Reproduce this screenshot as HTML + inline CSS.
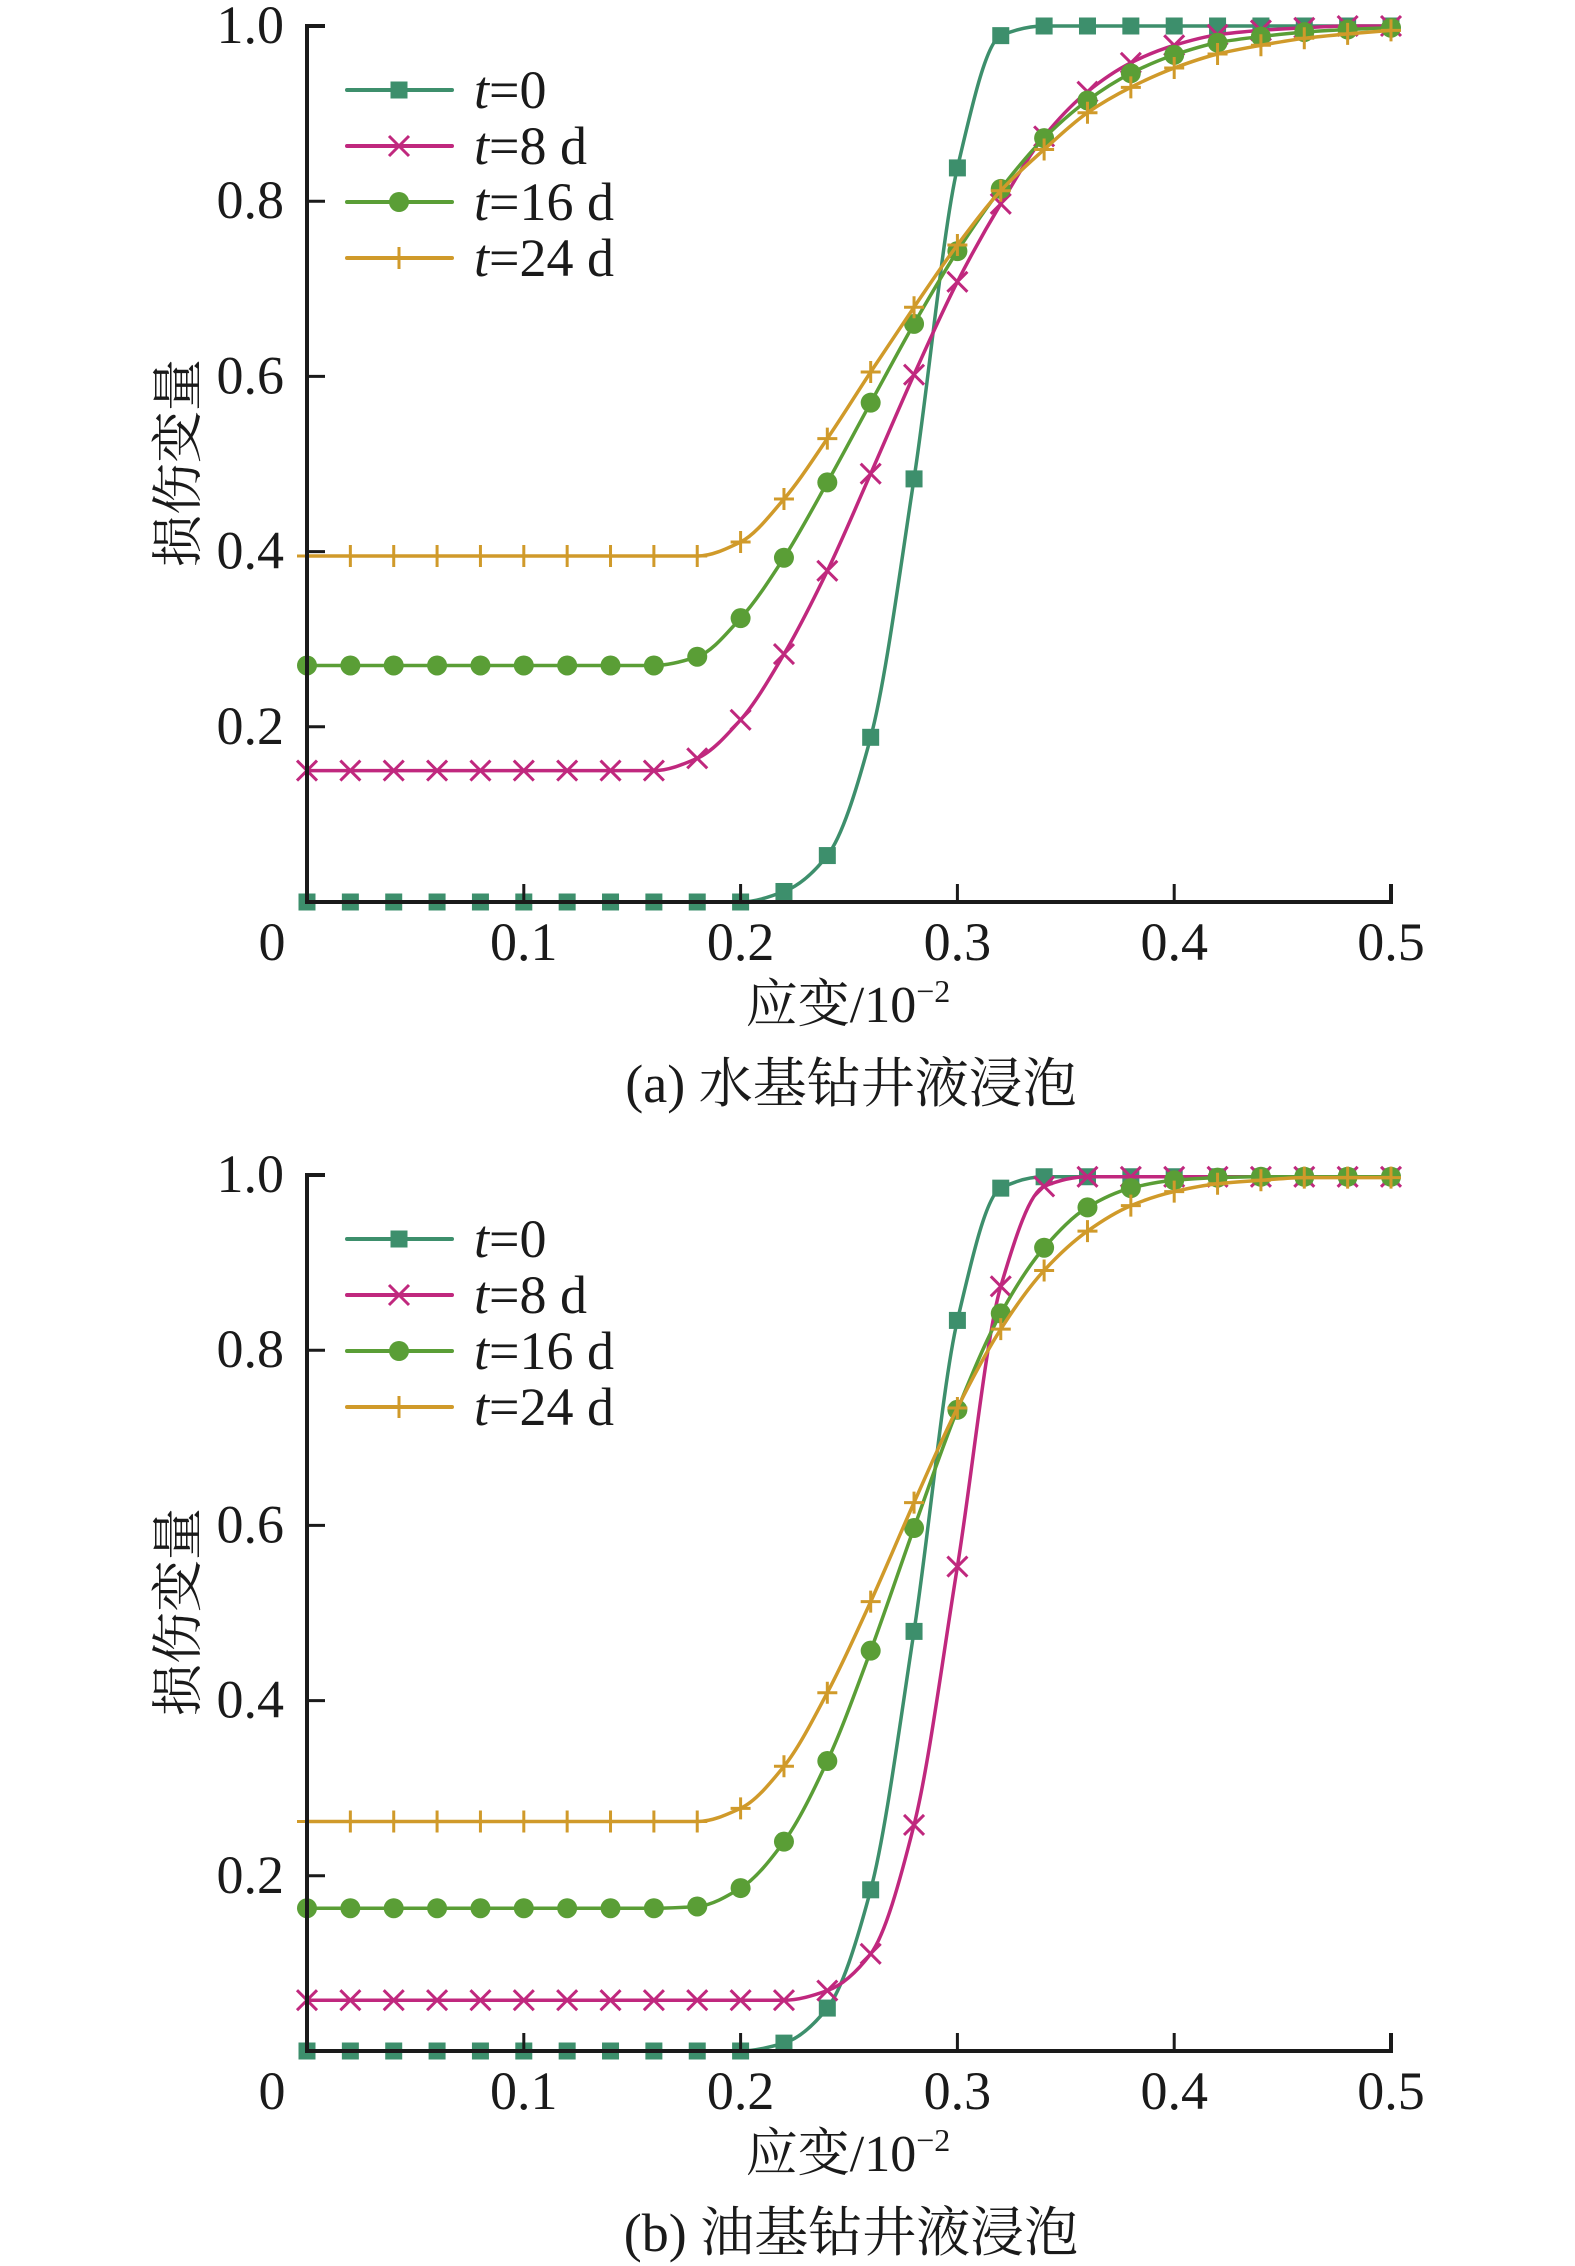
<!DOCTYPE html>
<html><head><meta charset="utf-8">
<style>
html,body{margin:0;padding:0;background:#fff;}
svg{display:block;}
text{font-family:"Liberation Serif","Noto Serif CJK SC","Noto Sans CJK SC",serif;fill:#1a1a1a;}
</style></head>
<body>
<svg id="fig" width="1575" height="2266" viewBox="0 0 1575 2266" xmlns="http://www.w3.org/2000/svg"></svg>
<script>
const strainValues = [0,0.02,0.04,0.06,0.08,0.10,0.12,0.14,0.16,0.18,0.20,0.22,0.24,0.26,0.28,0.30,0.32,0.34,0.36,0.38,0.40,0.42,0.44,0.46,0.48,0.50];
const xTickLabels = ["0","0.1","0.2","0.3","0.4","0.5"];
const xTickValues = [0,0.1,0.2,0.3,0.4,0.5];
const yTickLabels = ["0.2","0.4","0.6","0.8","1.0"];
const yTickValues = [0.2,0.4,0.6,0.8,1.0];
const seriesNames = ["t=0","t=8 d","t=16 d","t=24 d"];
// panel (a) water-based
const a_t0  = [0,0,0,0,0,0,0,0,0,0,0,0.012,0.053,0.188,0.483,0.838,0.989,1,1,1,1,1,1,1,1,1];
const a_t8  = [0.15,0.15,0.15,0.15,0.15,0.15,0.15,0.15,0.15,0.164,0.208,0.283,0.378,0.489,0.602,0.708,0.797,0.874,0.925,0.958,0.978,0.99,0.995,0.998,1,1];
const a_t16 = [0.27,0.27,0.27,0.27,0.27,0.27,0.27,0.27,0.27,0.28,0.324,0.393,0.479,0.57,0.66,0.743,0.814,0.872,0.915,0.946,0.967,0.981,0.988,0.993,0.996,0.998];
const a_t24 = [0.395,0.395,0.395,0.395,0.395,0.395,0.395,0.395,0.395,0.395,0.411,0.46,0.529,0.605,0.679,0.75,0.812,0.859,0.901,0.93,0.952,0.968,0.978,0.986,0.991,0.995];
// panel (b) oil-based
const b_t0  = [0,0,0,0,0,0,0,0,0,0,0,0.009,0.049,0.184,0.479,0.834,0.985,0.998,0.998,0.998,0.998,0.998,0.998,0.998,0.998,0.998];
const b_t8  = [0.058,0.058,0.058,0.058,0.058,0.058,0.058,0.058,0.058,0.058,0.058,0.058,0.069,0.111,0.258,0.553,0.873,0.987,0.998,0.998,0.998,0.998,0.998,0.998,0.998,0.998];
const b_t16 = [0.163,0.163,0.163,0.163,0.163,0.163,0.163,0.163,0.163,0.165,0.186,0.239,0.331,0.457,0.597,0.732,0.842,0.917,0.963,0.985,0.994,0.997,0.998,0.998,0.998,0.998];
const b_t24 = [0.262,0.262,0.262,0.262,0.262,0.262,0.262,0.262,0.262,0.262,0.277,0.325,0.409,0.513,0.626,0.734,0.824,0.891,0.936,0.965,0.981,0.99,0.994,0.997,0.997,0.997];

const NS="http://www.w3.org/2000/svg";
const svg=document.getElementById('fig');
const colors=["#3d8f6c","#c0287e","#5a9e36","#d09a2a"];
const markers=["square","cross","circle","plus"];
function el(tag,attrs,parent){const e=document.createElementNS(NS,tag);for(const k in attrs)e.setAttribute(k,attrs[k]);(parent||svg).appendChild(e);return e;}

function monoPath(pts){
  const n=pts.length;const dx=[],m=[],t=[];
  for(let i=0;i<n-1;i++){dx.push(pts[i+1][0]-pts[i][0]);m.push((pts[i+1][1]-pts[i][1])/dx[i]);}
  t[0]=m[0];t[n-1]=m[n-2];
  for(let i=1;i<n-1;i++){ if(m[i-1]*m[i]<=0)t[i]=0; else t[i]=2/(1/m[i-1]+1/m[i]); }
  let d="M"+pts[0][0].toFixed(1)+","+pts[0][1].toFixed(1);
  for(let i=0;i<n-1;i++){const h=dx[i]/3;
    d+=" C"+(pts[i][0]+h).toFixed(1)+","+(pts[i][1]+t[i]*h).toFixed(1)+" "+(pts[i+1][0]-h).toFixed(1)+","+(pts[i+1][1]-t[i+1]*h).toFixed(1)+" "+pts[i+1][0].toFixed(1)+","+pts[i+1][1].toFixed(1);}
  return d;
}
function drawMarker(g,type,x,y,c){
  let e;
  if(type==="square"){e=el('rect',{x:x-8.5,y:y-8.5,width:17,height:17,fill:c},g);}
  else if(type==="circle"){e=el('circle',{cx:x,cy:y,r:10,fill:c},g);}
  else if(type==="cross"){e=el('path',{d:`M${x-10},${y-10}L${x+10},${y+10}M${x-10},${y+10}L${x+10},${y-10}`,stroke:c,'stroke-width':3,fill:'none'},g);}
  else {e=el('path',{d:`M${x-10},${y}L${x+10},${y}M${x},${y-11}L${x},${y+11}`,stroke:c,'stroke-width':3,fill:'none'},g);}
  
  
}

function panel(oy,series,caption,id){
  const x0=307,x1=1391,yTop=oy+26,yBot=oy+902;
  const X=v=>x0+(x1-x0)*v/0.5;
  const Y=v=>yBot-(yBot-yTop)*v;
  const g=el('g',{});
  
  
  series.forEach((vals,si)=>{
    const sg=el('g',{},g);
    
    
    const pts=strainValues.map((s,i)=>[X(s),Y(vals[i])]);
    const p=el('path',{d:monoPath(pts),fill:'none',stroke:colors[si],'stroke-width':3.5,'stroke-linejoin':'round'},sg);
    
    
    pts.forEach(pt=>drawMarker(sg,markers[si],pt[0],pt[1],colors[si]));
  });
  const ax=el('path',{d:`M${x0+18},${yTop}L${x0},${yTop}L${x0},${yBot}L${x1},${yBot}L${x1},${yBot-18}`,fill:'none',stroke:'#1a1a1a','stroke-width':4},g);
  
  
  yTickValues.forEach((v,i)=>{
    const t=el('line',{x1:x0,x2:x0+18,y1:Y(v),y2:Y(v),stroke:'#1a1a1a','stroke-width':3},g);
    
    
    const tx=el('text',{x:284,y:Y(v)+17,'text-anchor':'end','font-size':54},g);
    tx.textContent=yTickLabels[i];
    
    
  });
  xTickValues.forEach((v,i)=>{
    if(v>0&&v<0.5){const t=el('line',{x1:X(v),x2:X(v),y1:yBot,y2:yBot-18,stroke:'#1a1a1a','stroke-width':3},g);
    
    }
    const tx=el('text',{x:v===0?272:X(v),y:yBot+58,'text-anchor':'middle','font-size':54},g);
    tx.textContent=xTickLabels[i];
    
    
  });
  const yt=el('text',{x:0,y:0,'text-anchor':'middle','font-size':52,transform:`translate(196,${oy+463}) rotate(-90)`},g);
  yt.textContent='损伤变量';
  
  
  const xt=el('text',{x:848,y:oy+1022,'text-anchor':'middle','font-size':52},g);
  xt.innerHTML='应变/10<tspan dy="-20" font-size="32">−2</tspan>';
  
  
  const cp=el('text',{x:851,y:oy+1102,'text-anchor':'middle','font-size':54},g);
  cp.textContent=caption;
  
  
  const lg=el('g',{},g);
  
  
  const ly=[90,146,202,258];
  seriesNames.forEach((nm,si)=>{
    const y=oy+ly[si];
    const ln=el('line',{x1:347,x2:452,y1:y,y2:y,stroke:colors[si],'stroke-width':4,'stroke-linecap':'round'},lg);
    
    
    drawMarker(lg,markers[si],399,y,colors[si]);
    const tx=el('text',{x:474,y:y+18,'font-size':54},lg);
    tx.innerHTML='<tspan font-style="italic">t</tspan>'+nm.slice(1);
    
    
  });
}
panel(0,[a_t0,a_t8,a_t16,a_t24],'(a) 水基钻井液浸泡','panel-a-water-based');
panel(1149,[b_t0,b_t8,b_t16,b_t24],'(b) 油基钻井液浸泡','panel-b-oil-based');
</script>
</body></html>
